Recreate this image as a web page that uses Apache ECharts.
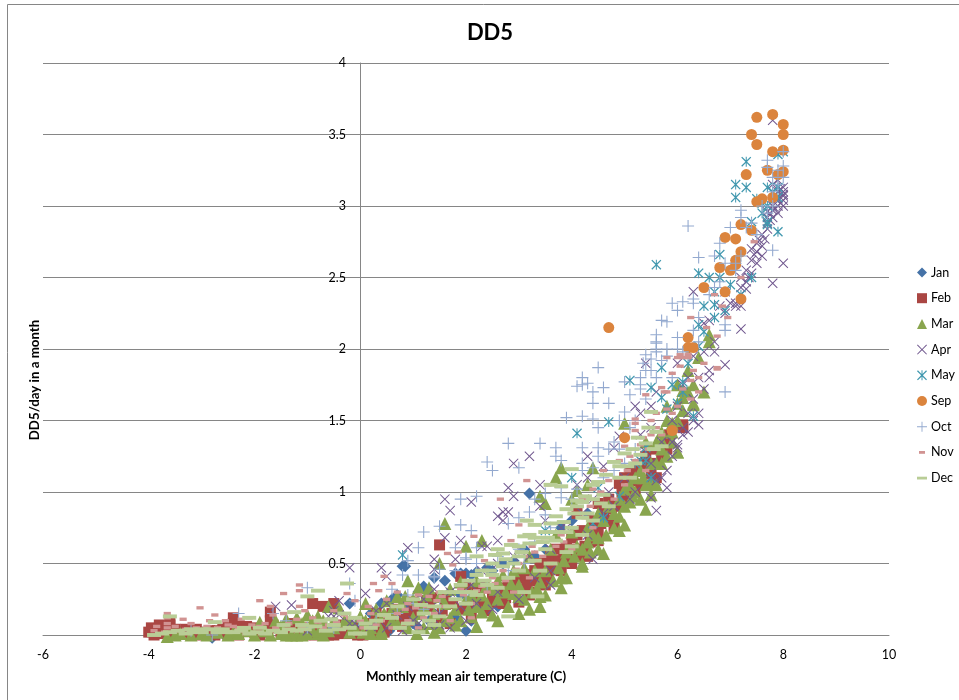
<!DOCTYPE html>
<html>
<head>
<meta charset="utf-8">
<script src="https://cdn.jsdelivr.net/npm/echarts@6/dist/echarts.min.js"></script>
<style>html,body{margin:0;padding:0;background:#fff}#c{width:959px;height:700px}</style>
</head>
<body>
<div id="c"></div>
<script>
const janPoints = [[3.2,.99],[.8,.48],[.85,.48],[-.2,.22],[-3.4,.01],[-2.9,.01],[-2.6,.01],[-2.8,-.02],[1.9,.43],[1.8,.43],[2,.43],[1.2,.34],[1.4,.4],[.55,.03],[.9,.2],[2.4,.47],[2.5,.45],[.4,.22],[.7,.28],[1.1,.3],[.5,.08],[1,.08],[1.4,.25],[1.6,.2],[2.2,.2],[2.5,.3],[2.8,.35],[3,.42],[3.3,.55],[3.5,.6],[3.8,.75],[4,.8],[4.3,.85],[0,.1],[.2,.15],[-.1,.05],[-.8,.03],[.3,.03],[1.3,.1],[1.8,.12],[2.1,.1],[2.3,.35],[1.9,.28],[2.7,.5],[2.1,.42],[2.2,.44],[1.6,.38],[1.1,.05],[1.5,.07],[2,.03],[.75,.1],[2.6,.2],[3.1,.6],[3.6,.5],[4.1,.7],[.6,.25],[1.7,.3],[2.9,.52]];
const febPoints = [[-4,.02],[-3.85,.04],[-3.7,.03],[-3.6,.1],[-3.6,.07],[-3.6,.03],[-3.4,.02],[-3.2,.01],[-3,.02],[-2.9,.01],[-2.7,.03],[-2.5,0],[-2.4,.12],[-2.4,.08],[-2.3,.07],[-2.3,0],[-2,.02],[-1.9,0],[-1.7,.16],[-1.7,.1],[-1.6,.05],[-1.5,.02],[-1.3,.08],[-1.1,.04],[-1,.02],[-.9,.22],[-.8,.03],[-.7,.2],[-.6,0],[-.55,.04],[-.5,.22],[-.3,.04],[-.2,.01],[0,.02],[.1,.06],[.3,.15],[.4,.08],[.6,.13],[.7,.18],[.4,.12],[1,.22],[1,.23],[.6,.15],[1.9,.41],[1.5,.63],[1.5,.12],[2.8,.34],[2.7,.22],[3,.23],[3.6,.5],[3.8,.45],[3.6,.55],[3.3,.45],[4.15,.55],[4.3,.55],[4.5,.66],[4.2,.73],[4.5,.73],[4.8,.76],[4.7,.8],[4.1,.85],[4.5,.92],[4.9,1.06],[5.2,1],[5.5,1.13],[5.6,1.2],[5.1,1.15],[3.9,.62],[3.2,.38],[3.1,.42],[2.9,.35],[2.5,.28],[2.3,.22],[6.1,1.45],[5.85,1.4],[5.8,1.3],[5.8,1.34],[5.6,1.1],[6.1,1.47],[1.2,.18],[1.6,.25],[1.9,.18],[2.2,.3],[2.4,.17],[2.6,.33],[3.3,.3],[3.5,.35],[3.4,.5],[3.7,.6],[4,.5],[4,.68],[4.4,.8],[4.7,.95],[5,.95],[5,1.1],[5.3,1.05],[5.4,1.25],[.9,.1],[.8,.06],[1.3,.2],[1.7,.08],[2.1,.12],[5.5,1.3],[5.7,1.25],[3,.4],[3.2,.28],[1.1,.15],[.2,.08],[.5,.05],
[-3.95,.05],[-3.9,0],[-3.8,.07],[-3.75,.01],[-3.5,.04],[-3.5,0],[-3.3,.04],[-3.1,.04],[-3.1,0],[-2.85,.03],[-2.75,0],[-2.6,.04],[-2.5,.06],[-2.45,.03],[-2.2,.03],[-2.15,.06],[-2.05,.05],[-1.85,.04],[-1.75,.02],[-1.65,.07],[-1.45,.05],[-1.35,.02],[-1.25,.05],[-1.05,0],[-.95,.05],[-.85,0],[-.75,.06],[-.65,.04],[-.5,0],[-.4,.01],[-.35,.07],[-.15,.05],[-.05,0],[.05,0],[.15,.03],[.25,.01],[.35,.05],[.45,.02],[.55,.1],[.75,.13],[.85,.15],[1,.16],[1.15,.2],[1.25,.24],[1.35,.26],[1.55,.17],[1.75,.22],[2,.35],[2.05,.2],[2.25,.26],[2.35,.33],[2.5,.23],[2.65,.28],[2.75,.26],[2.85,.3],[2.95,.4],[3.05,.32],[3.15,.34],[3.25,.42],[3.35,.38],[3.45,.43],[3.5,.5],[3.55,.42],[3.65,.46],[3.75,.52],[3.85,.58],[3.95,.56],[4.05,.6],[4.1,.7],[4.25,.62],[4.35,.65],[4.4,.7],[4.55,.78],[4.6,.85],[4.75,.88],[4.85,.9],[4.95,1],[5.05,1.02],[5.15,1.08],[5.25,1.15],[5.35,1.2],[5.45,1.18],[5.5,1.05]];
const marPoints = [[3.8,1.17],[3.7,1.1],[3.4,.97],[3.5,.92],[1.6,.78],[2,.62],[2.3,.66],[.9,.38],[1.5,.5],[5,1.48],[4.4,1.17],[4.1,1.01],[6,1.28],[6.6,2.1],[6.6,2.05],[6.4,1.94],[6.5,1.7],[6.3,1.61],[6.1,1.71],[6.1,1.57],[6,1.28],[5.9,1.48],[5.7,1.36],[5.5,1.06],[5.4,1.35],[5.4,.88],[5,.77],[4.9,.73],[4.2,.48],[4.6,.57],[4.5,.6],[4.3,.65],[3.8,.33],[3.9,.4],[3.4,.27],[3.2,.18],[2.5,.14],[2.2,.06],[2.1,.13],[1.8,.07],[2.3,.16],[2.9,.29],[3,.27],[2.6,.25],[1.07,.01],[1.2,.05],[.4,.03],[1.3,.33],[1.1,.33],[.7,.27],[1.9,.37],[2,.25],[2.2,.38],[3.3,.45],[3.4,.37],[3.8,.4],[2.8,.2],[4.2,.5],[5,.9],[5.1,.93],[5.2,1],[5,1.02],[4.8,.85],[5.7,1.3],[5.6,1.35],[6.1,1.66],[6,1.62],[6.3,1.62],[.1,.22],[-.4,.19],[-.6,.2],[-1,.14],[-1.2,.12],[-1.4,.11],[-1.6,.1],[-1.9,.09],[-.8,.13],[-.6,.03],[-.1,.05],[.2,.05],[.4,.01],[.2,.01],[-.8,.01],[-1.2,0],[-3.5,0],[-3.2,0],[-3,.01],[-2.7,.02],[-2.4,.02],[-2.1,.03],[-1.8,.03],[-1.5,.01],[-1.3,0],[-1.1,0],[-.9,.03],[-.3,.1],[0,.13],[.3,.18],[.5,.24],[.6,.18],[.8,.2],[1,.25],[1,.12],[.7,.08],[1.2,.2],[1.4,.15],[1.5,.27],[1.6,.22],[1.7,.32],[1.8,.18],[2.1,.28],[2.3,.28],[2.4,.35],[2.6,.38],[2.7,.42],[2.9,.45],[3.1,.47],[3,.35],[3.2,.55],[3.5,.45],[3.6,.6],[3.7,.7],[3.9,.58],[4,.72],[4.1,.62],[4.3,.75],[4.4,.7],[4.6,.8],[4.7,.9],[4.5,.85],[4.9,.95],[5.1,1.05],[5.3,1.15],[5.2,1.1],[5.5,1.2],[5.4,1.05],[5.6,1.2],[5.7,1.42],[5.8,1.5],[5.9,1.35],[5.8,1.6],[6,1.5],[6,1.75],[6.2,1.85],[6.2,1.7],[6.3,1.75],[.9,.05],[1.5,.05],[1.7,.12],[.3,.1],[4,.95],[4.3,1.05],[2.6,.1],[3,.15],[3.4,.2],[1.4,.02],[-.2,.02],[-.5,.1],
[-3.65,-.01],[-3.4,.01],[-2.9,0],[-2.5,0],[-2.3,.01],[-2,0],[-1.7,0],[-1.4,0],[-1,.01],[-.7,0],[-.5,.05],[-.2,.1],[-.7,.1],[-1.1,.08],[-1.5,.06],[-.9,.1],[.05,.02],[.1,.1],[.6,.1],[.45,.15],[.75,.2],[.85,.27],[1.15,.15],[1.25,.28],[1.35,.08],[1.6,.1],[1.9,.1],[2.05,.18],[2.2,.2],[2.4,.22],[2.55,.32],[2.75,.3],[2.85,.36],[3.1,.25],[3.25,.3],[3.35,.32],[3.5,.28],[3.65,.38],[3.75,.47],[3.85,.52],[4.05,.55],[4.2,.6],[4.35,.58],[4.5,.68],[4.65,.7],[4.8,.75],[4.9,.83],[5.15,.97],[5.3,.95],[5.35,1.1],[5.5,.98],[5.6,1.05],[5.7,1.2],[5.8,1.25],[5.9,1.42]];
const aprPoints = [[8,2.6],[7.8,2.46],[7.2,2.14],[6.9,1.89],[6.4,1.47],[6,1.31],[5.8,1.03],[5.5,.96],[8,3.13],[8,3.1],[8,3.07],[8,3.04],[8,3],[7.9,3.1],[7.9,3.05],[7.9,3],[7.9,2.95],[7.8,3],[7.8,2.97],[7.8,2.92],[7.7,2.92],[7.7,2.88],[7.6,2.8],[7.7,2.84],[7.5,2.74],[7.6,2.72],[7.5,2.68],[7.6,2.65],[7.4,2.7],[7.4,2.62],[7.5,2.6],[7.3,2.55],[7.4,2.53],[7.2,2.5],[7.3,2.42],[7.3,2.47],[7.2,2.43],[7,2.32],[7.1,2.3],[7.2,2.3],[7.1,2.32],[6.9,2.4],[6.8,2.3],[6.6,2.2],[6.9,2.25],[6.5,2.18],[6.7,2.05],[6.3,2.4],[7.8,3.6],[7.9,3.18],[7.8,3.15],[6.5,1.98],[6.6,1.85],[6.4,1.8],[6.5,1.72],[6.3,1.95],[6.2,1.8],[6.1,1.75],[6.3,1.65],[6.4,1.55],[6.2,1.55],[6.3,1.5],[6.1,1.45],[6.2,1.42],[6,1.6],[5.9,1.5],[5.7,1.35],[5.9,1.25],[5.8,1.15],[5.7,1.1],[5.6,1.08],[5.9,1.35],[5.5,1.2],[5.4,1.28],[5.3,1.4],[5.5,1.45],[5.2,1.6],[5.4,1.9],[5.3,1.55],[4.9,1.39],[4.3,1.25],[4.6,1.18],[4.8,1.31],[5.5,1.6],[5.6,1.7],[6,1.9],[6.6,1.8],[6.7,1.98],[6.1,1.4],[6,1.33],[5.6,.87],[5.5,1.13],[4.4,.53],[3.6,.45],[3.6,.35],[2.6,.3],[1.3,.07],[3.2,1.25],[2.9,1.2],[2.8,1.03],[3.4,1.05],[2.9,.97],[2.1,.93],[1.6,.95],[1.7,.87],[2.6,.83],[2.7,.86],[2.8,.86],[2.7,.8],[1.6,.68],[1.9,.66],[2.4,.62],[2.6,.66],[2.3,.62],[.9,.61],[1.8,.53],[1.4,.53],[1.4,.46],[.4,.47],[.5,.41],[3.4,.9],[4.3,1.1],[4.1,1.05],[3.5,.8],[3.8,.75],[3,.6],[-.2,.47],[.1,.29],[-.4,.24],[-1.6,.2],[-1.3,.21],[-.6,.13],[-.5,.13],[-.2,.08],[-.1,.08],[.2,.06],[.5,.22],[.3,.17],[-.4,.14],[-.5,.17],[-1,.03],[.7,.14],[.9,.2],[1,.1],[1.2,.25],[1.1,.08],[1.5,.15],[1.7,.3],[1.9,.2],[1.4,.32],[2.1,.35],[2.3,.45],[2.6,.5],[2.9,.55],[2.2,.22],[2.5,.18],[3,.25],[3.3,.4],[3.6,.6],[3.2,.55],[3.9,.75],[4.2,.85],[4.4,.95],[4.7,1],[4.6,.85],[5,1.1],[5.2,1],[5.1,.95],[4.3,.7],[4.8,.9],[1.7,.05],[2,.1],[1.5,.07],[.5,.05],[.8,.03],
[8,3.08],[7.95,3.02],[7.95,3.12],[7.85,2.98],[7.85,3.05],[7.75,2.9],[7.65,2.77],[7.55,2.76],[7.45,2.66],[7.35,2.5],[7.75,2.95],[7.7,2.96]];
const mayPoints = [[7.3,3.31],[7.1,3.15],[7.3,3.13],[7.1,3.06],[7.7,3.13],[7.9,3.13],[7.7,2.87],[8,3.38],[7.9,3.36],[7.5,3.05],[7.6,2.95],[7.7,3],[7.9,3.06],[7.8,3.1],[7.9,2.82],[7.7,2.89],[7.4,2.89],[6.8,2.66],[6.4,2.53],[6.6,2.5],[6.8,2.5],[7.4,2.5],[5.6,2.59],[6.7,2.4],[7.2,2.38],[6.7,2.31],[6.9,2.27],[6.7,2.22],[6.4,2.17],[5.7,1.87],[5.1,1.78],[5.5,1.73],[6.1,1.77],[6.1,1.7],[5.7,1.66],[5.8,1.58],[6.3,1.53],[4.7,1.49],[4.1,1.41],[5.4,1.31],[5.4,1.22],[5.2,1.2],[5.5,1.1],[4.5,1.03],[4.9,.97],[4,1.1],[.8,.56],[4.6,.82],[4.4,.78],[3.5,.73],[6.4,2.02],[6.5,2.12],[6.2,1.9],[6,1.62],[5.9,1.75],[5.3,1.22],[7.6,3.02],[7,2.45],[6.5,2.3]];
const sepPoints = [[7.8,3.64],[7.5,3.62],[8,3.57],[7.4,3.5],[8,3.5],[7.5,3.43],[8,3.39],[7.8,3.38],[7.3,3.22],[7.7,3.25],[8,3.24],[7.9,3.22],[7.8,3.06],[7.6,3.05],[7.5,3.03],[7.2,2.87],[7.4,2.83],[6.9,2.78],[7.1,2.77],[7.2,2.68],[7.1,2.62],[6.8,2.57],[7,2.55],[7.1,2.59],[6.5,2.43],[6.9,2.4],[7.2,2.35],[6.2,2.08],[6.2,2.01],[6.3,2.01],[5.9,1.43],[5,1.38],[4.7,2.15]];
const octPoints = [[-2.3,.15],[-1.65,.15],[-1,.33],[-.2,.36],[-.1,.24],[.6,.32],[-1.4,.1],[-2.8,0],[-3.2,.03],[.8,.42],[1.1,.42],[1.1,.61],[1.8,.61],[.9,.52],[.9,.28],[1.5,.46],[2,.53],[2,.28],[1.4,.4],[1.9,.95],[2.2,.97],[1.9,.77],[2.1,.73],[2,.54],[2.4,1.21],[2.5,1.15],[2.8,1.34],[3.4,1.34],[3,1.17],[3.7,1.31],[3.7,1.25],[3.8,1.22],[1.2,.72],[1.5,.76],[2.2,.61],[1.4,.41],[3.2,.86],[3.5,.84],[2.8,.78],[3,.82],[3.5,.99],[3.8,1.03],[3.8,.96],[4.2,1.31],[4.2,1.2],[4.2,1.15],[4.4,1.17],[4.5,1.87],[4.2,1.8],[4.3,1.76],[4.1,1.74],[4.2,1.75],[4.4,1.7],[4.6,1.73],[4.4,1.62],[4.7,1.62],[3.9,1.52],[4.2,1.53],[4.4,1.51],[5,1.56],[4.5,1.45],[4.9,1.5],[4.8,1.35],[4.5,1.31],[4.5,1.25],[4.7,1.3],[4.9,1.3],[5,1.77],[5.1,1.68],[5.3,1.8],[5.3,1.72],[5.4,1.65],[5.4,1.96],[5.4,1.85],[5.5,1.93],[5.5,1.85],[5.6,2.04],[5.6,1.98],[5.8,2],[6,2],[6.2,2.86],[6.4,2.64],[6.7,2.65],[6.8,2.74],[5.9,2.32],[6.1,2.33],[6,2.27],[6.3,2.35],[6.3,2.32],[5.7,2.2],[5.8,2.19],[5.6,2.1],[5.6,2.05],[5.6,2],[6,2.08],[6.4,2.22],[6.3,2.13],[6.4,2.05],[6.9,2.17],[6.9,2.13],[6.9,1.7],[6.6,2.38],[6.7,2.43],[6.8,2.47],[7.1,2.55],[6.9,2.6],[7.1,2.6],[7.2,2.65],[7.8,2.69],[7,2.85],[7.2,2.97],[7.2,2.92],[7.7,3.32],[7.7,3.27],[7.3,2.85],[7.4,2.88],[7.5,2.8],[7.6,3],[7.7,2.95],[7.8,3],[7.8,3.2],[7.9,3.25],[8,3.28],[8,3.2],[7.8,3.1],[7.9,3.15],[8,3.38],[5.35,1.9],[5.7,1.92],[5.3,1.75],[5.6,1.8],[5.9,1.8],[6.1,1.98],[5.8,1.95],[4.6,1.1],[4.8,1.15],[5,1.2],[5.2,1.3],[5.1,1.45],[5.2,1.5],[1.8,.45],[2.2,.5],[2.6,.55],[2.4,.35],[1.5,.2],[1.2,.18],[3,.6],[3.3,.65],[3.6,.75],[3.1,.5],[2.8,.45],[.3,.1],[.7,.15],[1,.22],[-1,.05],[-.5,.05],[4,.95],[4.1,1.02],[3.3,.95]];
const novPoints = [[-3.03,.19],[-1.9,.24],[-1.45,.29],[-1.15,.35],[-1.15,.31],[.25,.36],[.6,.36],[-2.75,.14],[-3.35,.11],[-3.2,.08],[-2.85,.1],[-2.55,.1],[-2.25,.11],[-2.1,.12],[-1.7,.2],[-1.65,.14],[-1.45,.15],[-1.15,.2],[-1.05,.17],[-.25,.29],[-.1,.24],[-.5,.17],[-.3,.14],[-3.65,.15],[-3.65,.08],[-3.65,.05],[-3.65,.12],[-3.3,.04],[-3,.03],[-2.7,.05],[-2.4,.06],[-2.2,.03],[-1.9,.06],[-3.85,.06],[-1.2,.11],[-.8,.09],[-.6,.07],[3.15,1.08],[2.65,.95],[3.55,1.05],[2.15,.69],[1.65,.57],[1.85,.58],[1.75,.49],[.45,.41],[.35,.31],[3.15,.8],[3,.77],[2.85,.66],[2.35,.52],[1.5,.3],[5.7,1.73],[5.4,1.68],[5.8,1.7],[5.9,1.83],[6,1.94],[6.1,1.94],[6.2,1.94],[5.8,1.94],[6.75,1.87],[6.3,1.85],[5.2,1.48],[5.2,1.43],[5.2,1.51],[5.5,1.5],[5.5,1.4],[5.1,1.25],[6.25,2.22],[6.95,2.22],[6.85,2.3],[6.7,2.38],[7.2,2.5],[7.45,2.75],[6.55,2.15],[6.75,2.09],[6.75,1.86],[6.05,1.96],[6.2,1.96],[6.05,1.88],[5.75,1.7],[6,1.6],[6.5,1.9],[6.25,1.78],[6.4,1.8],[6.25,1.65],[.5,.25],[.7,.3],[.9,.22],[1.1,.28],[1.3,.27],[.2,.15],[0,.1],[.4,.1],[.6,.05],[.9,.1],[1.2,.12],[1.4,.15],[1.6,.2],[1.9,.32],[2.1,.22],[2.3,.34],[2.5,.4],[2.7,.45],[3,.5],[3.3,.58],[3.5,.68],[3.8,.7],[4,.85],[4.2,.95],[4.4,1.02],[4.6,1.15],[4.9,1.22],[5,1.32],[5.3,1.33],[5.6,1.55],[2.9,.3],[3.2,.4],[3.6,.5],[4,.6],[4.4,.75],[4.8,.95],[5,1.05],[5.4,1.15],[5.7,1.4],[5.9,1.55],[6.1,1.72],[6.4,1.7],[1.1,.05],[1.7,.1],[2.1,.12],
[-3.9,.03],[-3.7,.02],[-3.5,.06],[-3.4,.03],[-3.1,.05],[-2.9,.06],[-2.6,.03],[-2.5,.07],[-2.3,.04],[-2.05,.07],[-1.8,.08],[-1.6,.05],[-1.35,.08],[-1.1,.06],[-.9,.12],[-.7,.05],[-.45,.09],[-.2,.12],[.05,.05],[.15,.2],[.3,.07],[.5,.13],[.7,.15],[.85,.18],[1.05,.19],[1.25,.2],[1.45,.24],[1.55,.27],[1.75,.3],[1.95,.28],[2.2,.31],[2.4,.3],[2.55,.36],[2.75,.38],[2.95,.46],[3.1,.55],[3.25,.62],[3.4,.65],[3.45,.55],[3.7,.62],[3.85,.65],[4.05,.75],[4.25,.82],[4.35,.9],[4.55,1],[4.7,1.08],[4.85,1.1],[5.05,1.15],[5.2,1.22],[5.35,1.38],[5.45,1.3],[5.6,1.45],[5.8,1.58]];
const decPoints = [[-3.9,0],[-3.6,.02],[-3.3,.01],[-3,.02],[-2.7,.02],[-2.4,.02],[-2.1,.01],[-1.8,.01],[-1.5,.02],[-1.2,.03],[-3.6,.13],[-3.2,.04],[-3,.04],[-2.75,.09],[-2.1,.12],[-1.45,.07],[-1.25,.16],[-1,.27],[-.8,.31],[-.25,.36],[-.55,.11],[-.3,.15],[.2,.05],[-.75,.1],[-1.1,.07],[-.4,.04],[-.1,.12],[0,.01],[-2.6,.04],[-2.2,.05],[-1.9,.05],[4,1.16],[3.8,1.04],[3.6,1.05],[4.1,.94],[4.2,.93],[3.9,.88],[4.1,.9],[4.2,.82],[4.4,.8],[3.7,.83],[3.6,.78],[3.3,.77],[3.15,.8],[3.2,.7],[3.1,.69],[2.85,.63],[2.7,.57],[2.5,.5],[2.3,.45],[2.8,.4],[2.4,.35],[2.1,.3],[1.8,.25],[1.5,.13],[1.1,.02],[5.5,1.56],[5.4,1.34],[5,1.27],[4.8,1.21],[4.5,1.07],[4.4,.95],[5.1,1.1],[4.2,.7],[3.9,.58],[3.5,.6],[3.3,.52],[3.35,.27],[2.8,.13],[1.4,.07],[2.6,.6],[2.2,.55],[2.5,.42],[3,.62],[3.3,.68],[3.5,.72],[3.7,.72],[3.9,.72],[4,.62],[4.4,1.05],[4.6,.98],[4.9,1.1],[5.2,1.2],[5.3,1.26],[5.6,1.42],[5.7,1.32],[.3,.1],[.6,.12],[.9,.08],[1.2,.15],[1.4,.2],[1.6,.3],[1.9,.35],[2,.22],[2.2,.28],[2.6,.33],[3,.45],[3.1,.3],[3.4,.45],[3.6,.5],[3,.55],[.7,.2],[1,.25],[2.2,.42],[2.7,.48],[4.7,.9],
[-3.75,.01],[-3.45,.03],[-3.15,.02],[-2.85,.04],[-2.55,.02],[-2.25,.03],[-1.95,.02],[-1.65,.03],[-1.35,.04],[-1.05,.04],[-.85,.06],[-.65,.03],[-.5,.07],[-.2,.05],[-.1,.01],[.1,.08],[.45,.14],[.75,.05],[1.15,.21],[1.3,.1],[1.7,.2],[1.85,.3],[2.05,.38],[2.35,.38],[2.45,.45],[2.55,.56],[2.75,.53],[2.9,.5],[3.05,.58],[3.2,.64],[3.45,.65],[3.55,.68],[3.7,.66],[3.85,.79],[4,.75],[4.05,.85],[4.3,.85],[4.25,.97],[4.55,.92],[4.65,1.12],[4.9,1.18],[5.05,1.18],[5.15,1.3],[5.25,1.38],[5.45,1.45],[5.55,1.3]];

const seriesNames = ['Jan','Feb','Mar','Apr','May','Sep','Oct','Nov','Dec'];
const tickX = {min:-6,max:10,interval:2};
const tickY = {min:0,max:4,interval:.5};

const crossPath='path://M0 .7L.7 0L5 4.3L9.3 0L10 .7L5.7 5L10 9.3L9.3 10L5 5.7L.7 10L0 9.3L4.3 5Z';
const starPath='path://M0 .9L.9 0L5 4.1L9.1 0L10 .9L5.9 5L10 9.1L9.1 10L5 5.9L.9 10L0 9.1L4.1 5ZM4.5 0H5.5V10H4.5Z';
const plusPath='path://M4.55 0H5.45V4.55H10V5.45H5.45V10H4.55V5.45H0V4.55H4.55Z';
const novPath='path://M0 0M10 10M2 3.6H8V6.4H2Z';
const decPath='path://M0 0M10 10M0 3.6H10V6.4H0Z';

function scatter(name,data,symbol,size,color){
  return {name,type:'scatter',data,symbol,symbolSize:size,clip:false,
    itemStyle:{color,opacity:1,borderWidth:0},emphasis:{disabled:true},silent:true};
}
const chart=echarts.init(document.getElementById('c'),null,{renderer:'canvas'});
const axisColor='#868686';
const font='Lato, "Liberation Sans", sans-serif';
chart.setOption({
  animation:false,
  backgroundColor:'#fff',
  textStyle:{fontFamily:font},
  title:{text:'DD5',left:485,top:17,textAlign:'center',textStyle:{fontFamily:font,fontWeight:'bold',fontSize:22,color:'#000'}},
  grid:{left:43,right:70,top:63,bottom:65,containLabel:false},
  legend:{orient:'vertical',left:912,top:261,itemWidth:10,itemHeight:10,itemGap:12.7,
    textStyle:{fontFamily:font,fontSize:12.5,color:'#000',padding:[0,0,0,-1]},
    data:seriesNames},
  graphic:[
    {type:'rect',silent:true,shape:{x:7.5,y:4.5,width:1100,height:900},style:{fill:'none',stroke:'#868686',lineWidth:1},z:-1},
    {type:'text',silent:true,rotation:Math.PI/2,x:35,y:380,style:{text:'DD5/day in a month',fontFamily:font,fontWeight:'bold',fontSize:13.3,fill:'#000',align:'center',verticalAlign:'middle'}}
  ],
  xAxis:{type:'value',...tickX,name:'Monthly mean air temperature (C)',nameLocation:'middle',nameGap:35,
    nameTextStyle:{fontFamily:font,fontWeight:'bold',fontSize:13.3,color:'#000'},
    axisLine:{show:true,lineStyle:{color:axisColor,width:1}},axisTick:{show:false},splitLine:{show:false},
    axisLabel:{color:'#000',fontSize:12.5,fontFamily:font,margin:13,showMinLabel:true,showMaxLabel:true}},
  yAxis:{type:'value',...tickY,
    axisLine:{show:true,onZero:true,lineStyle:{color:axisColor,width:1}},axisTick:{show:false},
    splitLine:{show:true,lineStyle:{color:axisColor,width:1}},
    axisLabel:{color:'#000',fontSize:12.5,fontFamily:font,margin:-303,showMinLabel:true,showMaxLabel:true}},
  series:[
    scatter('Jan',janPoints,'diamond',12,'#4572A7'),
    scatter('Feb',febPoints,'rect',11,'#AA4643'),
    scatter('Mar',marPoints,'triangle',13,'#89A54E'),
    scatter('Apr',aprPoints,crossPath,10,'#71588F'),
    scatter('May',mayPoints,starPath,10,'#4198AF'),
    scatter('Sep',sepPoints,'circle',11,'#DB843D'),
    scatter('Oct',octPoints,plusPath,12,'#93A9CF'),
    scatter('Nov',novPoints,novPath,12,'#D19392'),
    scatter('Dec',decPoints,decPath,14,'#B9CD96')
  ]
});
</script>
</body>
</html>
